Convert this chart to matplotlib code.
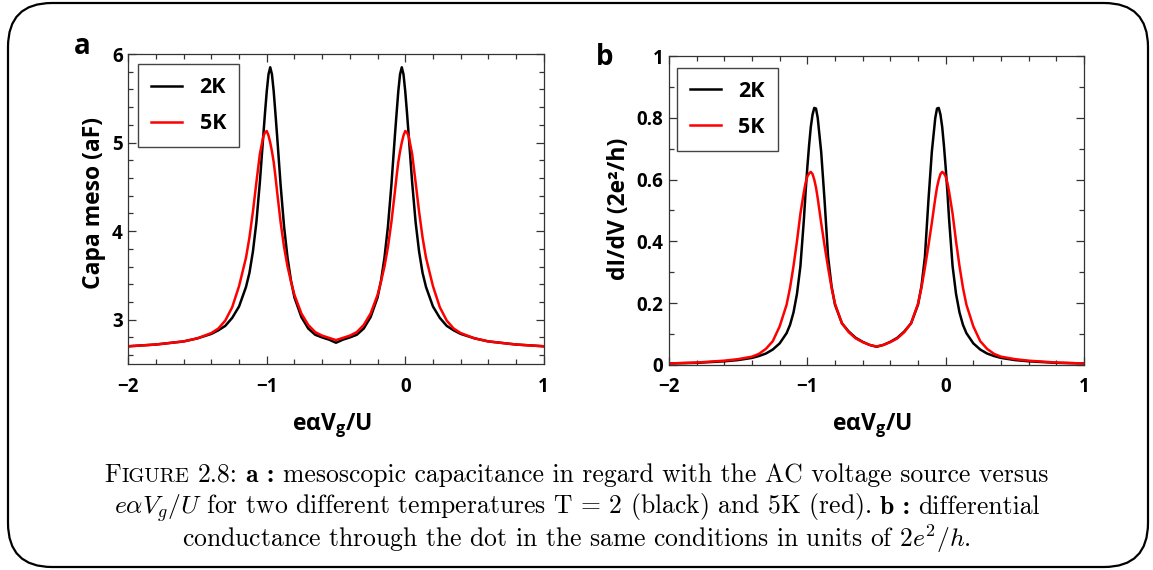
import matplotlib
matplotlib.use('Agg')
import matplotlib.pyplot as plt
from matplotlib.patches import FancyBboxPatch
from matplotlib.ticker import MultipleLocator, FuncFormatter
from matplotlib.transforms import IdentityTransform

# ---------------- data ----------------
x_gate = [-2.0, -1.8, -1.6, -1.5, -1.4, -1.35, -1.3, -1.25, -1.2, -1.15, -1.125, -1.1, -1.075, -1.05,
          -1.025, -1.0125, -1.0, -0.9875, -0.975, -0.9625, -0.95, -0.9375, -0.925, -0.9, -0.875,
          -0.85, -0.825, -0.8, -0.75, -0.7, -0.65, -0.6, -0.55, -0.5,
          -0.45, -0.4, -0.35, -0.3, -0.25, -0.2, -0.175, -0.15, -0.125, -0.1, -0.075, -0.0625,
          -0.05, -0.0375, -0.025, -0.0125, 0.0, 0.0125, 0.025, 0.05, 0.075, 0.1, 0.125, 0.15,
          0.2, 0.25, 0.3, 0.35, 0.4, 0.5, 0.6, 0.8, 1.0]

capa_2K = [2.70, 2.72, 2.755, 2.79, 2.84, 2.88, 2.93, 3.02, 3.15, 3.37, 3.53, 3.77, 4.10, 4.55,
           5.08, 5.34, 5.58, 5.77, 5.85, 5.77, 5.58, 5.33, 5.07, 4.52, 4.05,
           3.70, 3.44, 3.25, 3.03, 2.90, 2.83, 2.80, 2.775, 2.74,
           2.775, 2.80, 2.83, 2.90, 3.03, 3.25, 3.44, 3.70, 4.05, 4.52, 5.07, 5.33,
           5.58, 5.77, 5.85, 5.77, 5.58, 5.34, 5.08, 4.55, 4.10, 3.77, 3.53, 3.37,
           3.15, 3.02, 2.93, 2.88, 2.84, 2.79, 2.755, 2.72, 2.70]

capa_5K = [2.70, 2.72, 2.755, 2.79, 2.85, 2.90, 2.99, 3.14, 3.38, 3.70, 3.93, 4.22, 4.55, 4.87,
           5.07, 5.115, 5.13, 5.08, 5.00, 4.90, 4.78, 4.62, 4.44, 4.10, 3.82,
           3.60, 3.43, 3.28, 3.07, 2.94, 2.86, 2.82, 2.795, 2.77,
           2.795, 2.82, 2.86, 2.94, 3.07, 3.28, 3.43, 3.60, 3.82, 4.10, 4.44, 4.62,
           4.78, 4.90, 5.00, 5.08, 5.13, 5.115, 5.07, 4.87, 4.55, 4.22, 3.93, 3.70,
           3.38, 3.14, 2.99, 2.90, 2.85, 2.79, 2.755, 2.72, 2.70]

didv_2K = [0.005, 0.007, 0.012, 0.016, 0.023, 0.029, 0.037, 0.050, 0.070, 0.103, 0.13, 0.17, 0.23, 0.32,
           0.47, 0.56, 0.64, 0.71, 0.77, 0.81, 0.832, 0.83, 0.80, 0.69, 0.53,
           0.35, 0.255, 0.195, 0.135, 0.108, 0.088, 0.075, 0.065, 0.059,
           0.065, 0.075, 0.088, 0.108, 0.135, 0.195, 0.255, 0.35, 0.53, 0.69, 0.80, 0.83,
           0.832, 0.81, 0.77, 0.71, 0.64, 0.56, 0.47, 0.32, 0.23, 0.17, 0.13, 0.103,
           0.070, 0.050, 0.037, 0.029, 0.023, 0.016, 0.012, 0.007, 0.005]

didv_5K = [0.005, 0.008, 0.014, 0.019, 0.027, 0.036, 0.052, 0.077, 0.125, 0.195, 0.25, 0.32, 0.40, 0.49,
           0.56, 0.59, 0.61, 0.62, 0.625, 0.618, 0.60, 0.575, 0.54, 0.46, 0.385,
           0.315, 0.25, 0.198, 0.135, 0.106, 0.086, 0.074, 0.065, 0.060,
           0.065, 0.074, 0.086, 0.106, 0.135, 0.198, 0.25, 0.315, 0.385, 0.46, 0.54, 0.575,
           0.60, 0.618, 0.625, 0.62, 0.61, 0.59, 0.56, 0.49, 0.40, 0.32, 0.25, 0.195,
           0.125, 0.077, 0.052, 0.036, 0.027, 0.019, 0.014, 0.008, 0.005]

series_labels = ['2K', '5K']
series_colors = ['black', '#ff0000']
x_ticks = [-2, -1, 0, 1]
capa_ticks = [3, 4, 5, 6]
didv_ticks = [0, 0.2, 0.4, 0.6, 0.8, 1]

# ---------------- figure ----------------
W, H = 1153, 570
SANS = ['Open Sans', 'Lato', 'DejaVu Sans']
plt.rcParams['font.family'] = SANS
plt.rcParams['font.weight'] = 'bold'
fig = plt.figure(figsize=(W / 100, H / 100), dpi=100)


def fx(px):
    return px / W


def fy(py):
    return 1 - py / H


# rounded border
border = FancyBboxPatch((8, 3), 1140, 564, boxstyle='round,pad=0,rounding_size=44',
                        transform=IdentityTransform(), facecolor='none', edgecolor='black',
                        linewidth=1.6, zorder=0)
fig.patches.append(border)

axA = fig.add_axes([fx(128.3), fy(364), (543.7 - 128.3) / W, (364 - 54) / H])
axB = fig.add_axes([fx(669), fy(365), (1084 - 669) / W, (365 - 56) / H])


def minus_fmt(v, p):
    return ('%g' % v).replace('-', '\u2212')


def style(ax, ylim, yticks, yminor):
    ax.set_xlim(-2, 1)
    ax.set_ylim(*ylim)
    ax.set_xticks(x_ticks)
    ax.xaxis.set_minor_locator(MultipleLocator(0.2))
    ax.set_yticks(yticks)
    ax.yaxis.set_minor_locator(MultipleLocator(yminor))
    ax.xaxis.set_major_formatter(FuncFormatter(minus_fmt))
    ax.yaxis.set_major_formatter(FuncFormatter(minus_fmt))
    ax.tick_params(which='both', direction='in', top=True, right=True, width=0.9,
                   color='#333333', labelsize=13.5)
    ax.tick_params(axis='y', which='both', pad=4)
    ax.tick_params(axis='x', which='both', pad=9)
    ax.tick_params(which='major', length=5.5)
    ax.tick_params(which='minor', length=3.5)
    for sp in ax.spines.values():
        sp.set_linewidth(0.9)
        sp.set_color('#333333')
    for lbl in ax.get_xticklabels() + ax.get_yticklabels():
        lbl.set_fontweight('bold')


for ax, ys, anchor in [(axA, [capa_2K, capa_5K], (0.024, 0.967)),
                       (axB, [didv_2K, didv_5K], (0.019, 0.962))]:
    for y, lab, col in zip(ys, series_labels, series_colors):
        ax.plot(x_gate, y, color=col, lw=1.8, label=lab, solid_joinstyle='round')
    leg = ax.legend(loc='upper left', bbox_to_anchor=anchor, borderaxespad=0,
                    fancybox=False, edgecolor='#444444', framealpha=1,
                    prop=dict(weight='bold', size=15.5), handlelength=1.45,
                    handletextpad=0.8, borderpad=0.6, labelspacing=0.7)
    leg.get_frame().set_linewidth(1.0)
    for ln in leg.get_lines():
        ln.set_linewidth(1.8)

style(axA, (2.5, 6.0), capa_ticks, 0.2)
style(axB, (0.0, 1.0), didv_ticks, 0.1)

# axis labels and panel letters
fig.text(fx(94), fy(203), 'Capa meso (aF)', rotation=90, ha='center', va='center',
         fontsize=16.5, fontweight='bold')
fig.text(fx(619), fy(209), 'dI/dV (2e\u00b2/h)', rotation=90, ha='center', va='center',
         fontsize=16.5, fontweight='bold')
for xc in (332, 872):
    fig.text(fx(xc), fy(430), 'e\u03b1V$_\\mathregular{g}$/U',
             ha='center', va='baseline', fontsize=16.5, fontweight='bold')
fig.text(fx(82), fy(54), 'a', ha='center', va='baseline', fontsize=20, fontweight='bold')
fig.text(fx(605), fy(65), 'b', ha='center', va='baseline', fontsize=20, fontweight='bold')

# ---------------- caption ----------------
renderer = fig.canvas.get_renderer()


def measure(s, kw):
    t = fig.text(0, 0, s, **kw)
    w = t.get_window_extent(renderer).width
    t.remove()
    return w


def row(pieces, xc, yb, draw=True):
    items = []
    for s, kw in pieces:
        lead = len(s) - len(s.lstrip(' '))
        trail = len(s) - len(s.rstrip(' '))
        core = s.strip(' ')
        sp = measure('x x', kw) - measure('xx', kw)
        items.append((core, kw, lead * sp, measure(core, kw), trail * sp))
    total = sum(a + b + c for _, _, a, b, c in items)
    if not draw:
        return total
    x = xc - total / 2
    for core, kw, a, b, c in items:
        x += a
        fig.text(fx(x), fy(yb), core, ha='left', va='baseline', **kw)
        x += b + c
    return total


def caption_pieces(fs):
    R = dict(family='cmr10', fontsize=fs, fontweight='normal', math_fontfamily='cm')
    RS = dict(family='cmr10', fontsize=fs * 0.8, fontweight='normal')
    B = dict(family='cmb10', fontsize=fs, fontweight='normal')
    l1 = [('F', R), ('IGURE', RS), (' 2.8: ', R), ('a :', B),
          (' mesoscopic capacitance in regard with the AC voltage source versus', R)]
    l2 = [(r'$e\alpha V_g/U$ for two different temperatures T = 2 (black) and 5K (red). ', R),
          ('b :', B), (' differential', R)]
    l3 = [(r'conductance through the dot in the same conditions in units of $2e^2/h$.', R)]
    return l1, l2, l3


fs0 = 14.0
w0 = row(caption_pieces(fs0)[0], 576.5, 0, draw=False)
fs = fs0 * 942.0 / w0
l1, l2, l3 = caption_pieces(fs)
row(l1, 576.5, 482)
row(l2, 576.5, 514)
row(l3, 576.5, 547)

fig.savefig('out.png', dpi=100)
